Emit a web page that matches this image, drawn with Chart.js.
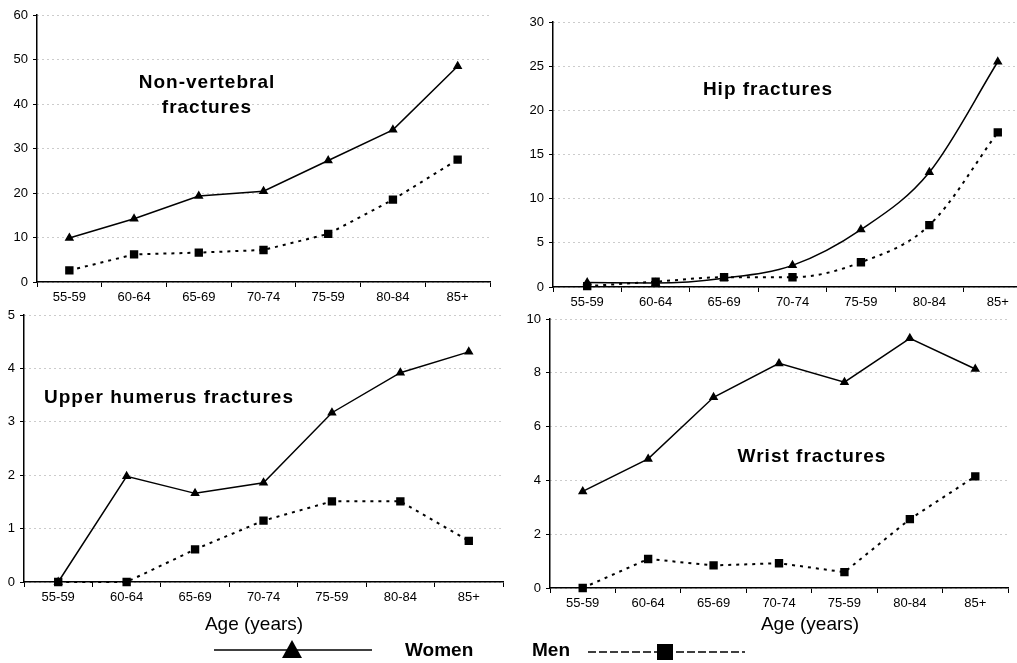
<!DOCTYPE html>
<html>
<head>
<meta charset="utf-8">
<script src="https://cdn.jsdelivr.net/npm/chart.js@4"></script>
<style>
html, body { margin: 0; padding: 0; width: 1017px; height: 663px; overflow: hidden; background: #fff; }
body { position: relative; font-family: "Liberation Sans", Arial, sans-serif; color: #000; }
canvas { position: absolute; }
.title { position: absolute; font-size: 19px; font-weight: bold; letter-spacing: 1px; line-height: 25px; white-space: nowrap; text-align: center; transform: translateX(-50%); }
.axis-title { position: absolute; font-size: 19px; line-height: 19px; white-space: nowrap; transform: translateX(-50%); }
.legend-text { position: absolute; font-size: 19px; font-weight: bold; line-height: 19px; }
svg { position: absolute; left: 0; top: 0; }
</style>
</head>
<body>
<canvas id="nonvert" width="500" height="310" style="left:0;top:0"></canvas>
<canvas id="hip" width="535" height="310" style="left:505px;top:0"></canvas>
<canvas id="humerus" width="510" height="320" style="left:0;top:300px"></canvas>
<canvas id="wrist" width="512" height="320" style="left:505px;top:300px"></canvas>

<div class="title" style="left:207px;top:69px">Non-vertebral<br>fractures</div>
<div class="title" style="left:768px;top:76px">Hip fractures</div>
<div class="title" style="left:169px;top:384px">Upper humerus fractures</div>
<div class="title" style="left:812px;top:443px">Wrist fractures</div>

<div class="axis-title" style="left:254px;top:614px">Age (years)</div>
<div class="axis-title" style="left:810px;top:614px">Age (years)</div>

<svg width="1017" height="663">
  <line x1="214" y1="650" x2="372" y2="650" stroke="#000" stroke-width="1.5"/>
  <polygon points="292,640 282,658 302,658" fill="#000"/>
  <line x1="588" y1="652" x2="745" y2="652" stroke="#000" stroke-width="1.5" stroke-dasharray="8 3"/>
  <rect x="657" y="644" width="16" height="16" fill="#000"/>
</svg>
<div class="legend-text" style="left:405px;top:640px">Women</div>
<div class="legend-text" style="left:532px;top:640px">Men</div>

<script>
var ageGroups = ['55-59', '60-64', '65-69', '70-74', '75-59', '80-84', '85+'];

var nonVertWomen = [9.9, 14.2, 19.3, 20.4, 27.3, 34.2, 48.5];
var nonVertMen = [2.6, 6.2, 6.6, 7.2, 10.8, 18.5, 27.5];

var hipWomen = [0.5, 0.45, 1.0, 2.45, 6.5, 13.0, 25.5];
var hipMen = [0.1, 0.6, 1.1, 1.1, 2.8, 7.0, 17.5];

var humerusWomen = [0, 1.98, 1.66, 1.86, 3.17, 3.92, 4.31];
var humerusMen = [0, 0, 0.61, 1.15, 1.51, 1.51, 0.77];

var wristWomen = [3.59, 4.8, 7.09, 8.35, 7.65, 9.28, 8.14];
var wristMen = [0, 1.08, 0.84, 0.92, 0.59, 2.56, 4.15];

Chart.defaults.font.family = '"Liberation Sans", Arial, sans-serif';
Chart.defaults.font.size = 13;
Chart.defaults.color = '#000';

function makeChart(id, women, men, yMax, yStep, yWidth, xHeight, pad, smooth) {
    var mode = smooth ? 'monotone' : 'default';
    return new Chart(document.getElementById(id).getContext('2d'), {
        type: 'line',
        data: {
            labels: ageGroups,
            datasets: [{
                label: 'Women',
                data: women,
                borderColor: '#000',
                backgroundColor: '#000',
                borderWidth: 1.5,
                pointStyle: 'triangle',
                pointRadius: 4,
                cubicInterpolationMode: mode,
                clip: false
            }, {
                label: 'Men',
                data: men,
                borderColor: '#000',
                backgroundColor: '#000',
                borderWidth: 2,
                borderDash: [3, 5],
                pointStyle: 'rect',
                pointRadius: 4.5,
                cubicInterpolationMode: mode,
                clip: false
            }]
        },
        options: {
            responsive: false,
            animation: false,
            events: [],
            layout: { padding: pad },
            plugins: {
                legend: { display: false },
                tooltip: { enabled: false }
            },
            scales: {
                x: {
                    offset: true,
                    afterFit: function (axis) { axis.height = xHeight; },
                    grid: {
                        offset: true,
                        drawOnChartArea: false,
                        tickLength: 5,
                        tickColor: '#000'
                    },
                    border: { color: '#000', width: 1.5 },
                    ticks: { padding: 3, maxRotation: 0, autoSkip: false }
                },
                y: {
                    min: 0,
                    max: yMax,
                    afterFit: function (axis) { axis.width = yWidth; },
                    grid: {
                        color: '#999',
                        lineWidth: 1,
                        tickLength: 4,
                        tickColor: '#000',
                        tickBorderDash: []
                    },
                    border: { color: '#000', width: 1.5, dash: [1, 4] },
                    ticks: { stepSize: yStep, padding: 5 }
                }
            }
        }
    });
}

makeChart('nonvert', nonVertWomen, nonVertMen, 60, 10, 37, 28, { top: 15, right: 10, left: 0, bottom: 0 }, false);
makeChart('hip', hipWomen, hipMen, 30, 5, 48, 23, { top: 22, right: 8, left: 0, bottom: 0 }, true);
makeChart('humerus', humerusWomen, humerusMen, 5, 1, 24, 38, { top: 15, right: 7, left: 0, bottom: 0 }, false);
makeChart('wrist', wristWomen, wristMen, 10, 2, 45, 32, { top: 19, right: 9, left: 0, bottom: 0 }, false);
</script>
</body>
</html>
